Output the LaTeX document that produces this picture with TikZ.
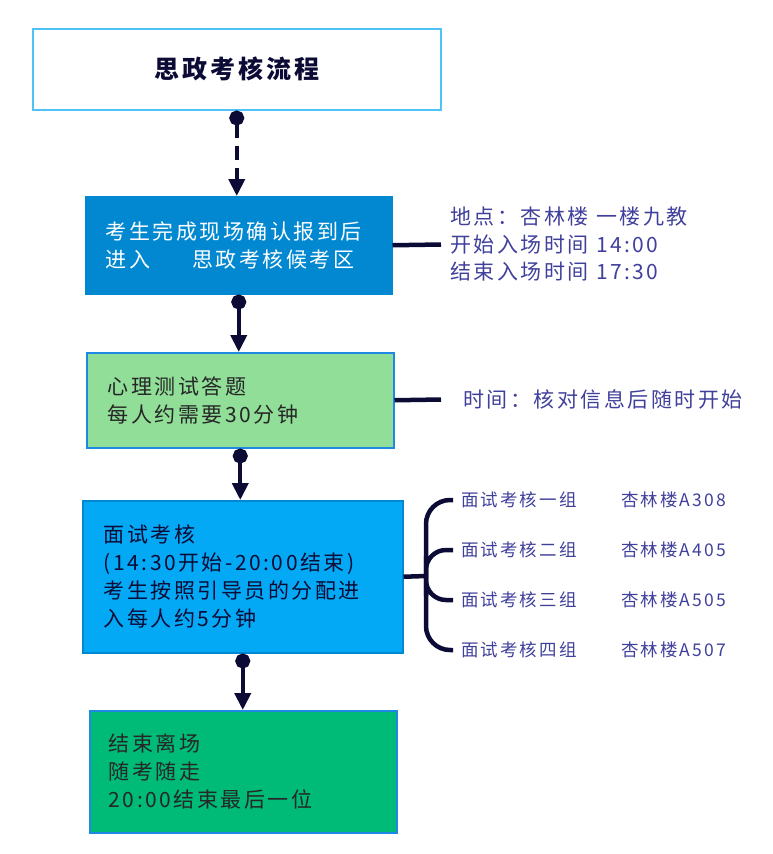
\documentclass[tikz,border=0pt]{standalone}
\usepackage{fontspec}
\setmainfont[LetterSpace=12]{Noto Sans CJK SC}
\usetikzlibrary{arrows.meta}
\definecolor{navy}{HTML}{0B0B35}
\definecolor{titleblue}{HTML}{4FC3F7}
\definecolor{regblue}{HTML}{0288D1}
\definecolor{quizgreen}{HTML}{90DE98}
\definecolor{edgeblue}{HTML}{1E88E5}
\definecolor{talkblue}{HTML}{03A9F4}
\definecolor{endgreen}{HTML}{00BA78}
\definecolor{notegray}{HTML}{40409C}
\tikzset{
  stage/.style={draw, line width=1.5pt, anchor=north west, inner ysep=0pt,
    align=left, font=\fontsize{21}{28}\selectfont},
  flow/.style={draw=navy, line width=4pt,
    {Circle[length=15pt]}-{Triangle[length=17pt,width=16pt]}},
  sideline/.style={draw=navy, line width=4.5pt},
  note/.style={text=notegray, anchor=west, align=left, inner sep=0pt,
    font=\fontsize{21}{27.5}\selectfont},
  room/.style={text=notegray, anchor=west, inner sep=0pt,
    font=\fontsize{17.5}{20}\selectfont},
}
\begin{document}
\begin{tikzpicture}[x=1pt, y=-1pt]
  \useasboundingbox (0,0) rectangle (773,854);
  % stages
  \node[stage, draw=titleblue, align=center, text=navy, inner xsep=0pt,
    text width=408pt, minimum height=81pt, font=\fontsize{25}{30}\selectfont\bfseries]
    (title) at (32,28) {思政考核流程};
  \node[stage, fill=regblue, draw=regblue, text=white, inner xsep=20pt,
    text width=266pt, minimum height=97pt]
    (register) at (85,196) {考生完成现场确认报到后\\进入\hspace{2em}思政考核候考区};
  \node[stage, fill=quizgreen, draw=edgeblue, text=black!85, inner xsep=21pt,
    text width=265pt, minimum height=95pt]
    (quiz) at (86,352) {心理测试答题\\每人约需要30分钟};
  \node[stage, fill=talkblue, draw=regblue, text=navy, inner xsep=21pt,
    text width=278pt, minimum height=152pt]
    (interview) at (82,500) {面试考核\\(14:30开始-20:00结束)\\考生按照引导员的分配进\\入每人约5分钟};
  \node[stage, fill=endgreen, draw=edgeblue, text=black!85, inner xsep=19pt,
    text width=269pt, minimum height=122pt]
    (leave) at (89,710) {结束离场\\随考随走\\20:00结束最后一位};
  % flow
  \draw[flow, dash pattern=on 14pt off 8pt] (title.south) -- (title.south |- register.north);
  \draw[flow] (register.south) -- (register.south |- quiz.north);
  \draw[flow] (quiz.south) -- (quiz.south |- interview.north);
  \draw[flow] (interview.south) -- (interview.south |- leave.north);
  % notes
  \node[note] (reginfo) at (450,244.5) {地点：杏林楼 一楼九教\\开始入场时间 14:00\\结束入场时间 17:30};
  \draw[sideline] (register.east) -- ([xshift=-9pt]reginfo.west);
  \node[note] (quizinfo) at (463,399.5) {时间：核对信息后随时开始};
  \draw[sideline] (quiz.east) -- ([xshift=-22pt]quizinfo.west);
  % interview groups
  \coordinate (fork) at (426,576);
  \draw[sideline] (interview.east) -- (fork);
  \foreach \grp/\rm [count=\i] in {一/A308,二/A405,三/A505,四/A507}{
    \node[room] (grp\i) at (461,450+50*\i) {面试考核\grp 组};
    \node[room] (room\i) at (621,450+50*\i) {杏林楼\rm};
  }
  \draw[sideline, rounded corners=24pt] ([xshift=-8pt]grp1.west) -| (fork) |- ([xshift=-8pt]grp4.west);
  \draw[sideline, rounded corners=20pt] ([xshift=-8pt]grp2.west) -| (fork) |- ([xshift=-8pt]grp3.west);
\end{tikzpicture}
\end{document}
